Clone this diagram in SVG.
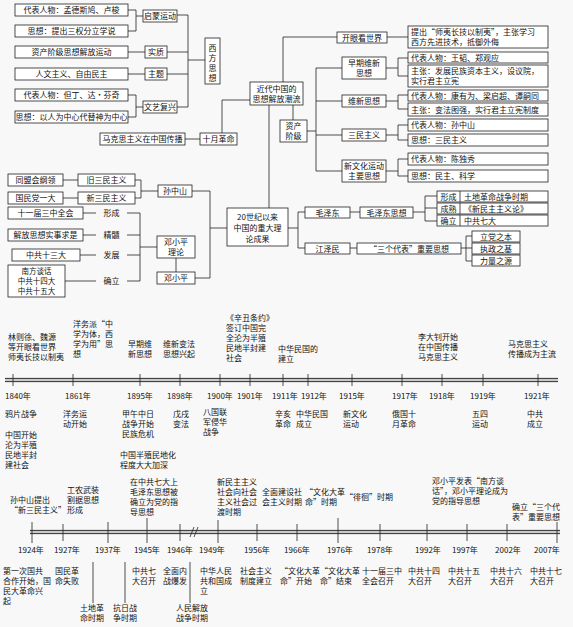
<svg xmlns="http://www.w3.org/2000/svg" width="573" height="627" viewBox="0 0 573 627">
<style>
.b{fill:#fff;stroke:#222;stroke-width:0.8}
.t{font-family:"Noto Sans CJK SC","Noto Sans",sans-serif;font-size:8px;fill:#111}
.s{font-size:7.5px}
.c{text-anchor:middle}
.l{stroke:#222;stroke-width:0.8;fill:none}
.band{stroke:#c8c8c8;stroke-width:5}
</style>
<rect width="573" height="627" fill="#f8f8f8"/>
<g id="connectors" class="l">
<path d="M128 10H136M128 31H136M136 10V31M136 16H143"/>
<path d="M128 52H145M128 74H145"/>
<path d="M128 95H136M128 117H136M136 95V117M136 107H143"/>
<path d="M177 15H188M167 52H188M167 74H188M177 107H188M188 15V107M188 60H205"/>
<path d="M283 82V37H337"/>
<path d="M250 100H222V133M185 139H200"/>
<path d="M293 105V120M307 131H316M316 68V171M316 68H342M316 101H342M316 135H342M316 171H342"/>
<path d="M387 37H408"/>
<path d="M386 68H398M398 58V76M398 58H408M398 76H408"/>
<path d="M386 101H398M398 95V109M398 95H408M398 109H408"/>
<path d="M386 135H398M398 125V140M398 125H408M398 140H408"/>
<path d="M386 171H398M398 159V176M398 159H408M398 176H408"/>
<path d="M269 105V208"/>
<path d="M288 228H298M298 212V248M298 212H305M350 212H360M413 212H425M425 196V221M425 196H437M425 208H437M425 221H437"/>
<path d="M298 248H305M350 248H357M461 248H466M466 236V261M466 236H472M466 248H472M466 261H472"/>
<path d="M227 228H210M210 191V278M210 191H192M210 278H195"/>
<path d="M63 180H78M63 198H78M135 180H141M135 198H141M141 180V198M141 191H158"/>
<path d="M83 213H96M83 235H96M80 255H96M65 281H96M127 213H140M127 235H140M127 255H140M127 281H140M140 213V281M140 247H157M176 258V272"/>
</g>
<g id="west-rows">
<rect class="b" x="15" y="4" width="113" height="12"/><text class="t c" x="71.5" y="13">代表人物：孟德斯鸠、卢梭</text>
<rect class="b" x="15" y="25" width="113" height="12"/><text class="t c" x="71.5" y="34">思想：提出三权分立学说</text>
<rect class="b" x="15" y="46" width="113" height="12"/><text class="t c" x="71.5" y="55">资产阶级思想解放运动</text>
<rect class="b" x="15" y="68" width="113" height="12"/><text class="t c" x="71.5" y="77">人文主义、自由民主</text>
<rect class="b" x="15" y="89" width="113" height="12"/><text class="t c" x="71.5" y="98">代表人物：但丁、达·芬奇</text>
<rect class="b" x="15" y="111" width="113" height="12"/><text class="t c" x="71.5" y="120">思想：以人为中心代替神为中心</text>
</g>
<g id="west-labels">
<rect class="b" x="143" y="10" width="34" height="12"/><text class="t c" x="160" y="19">启蒙运动</text>
<rect class="b" x="145" y="46" width="22" height="12"/><text class="t c" x="156" y="55">实质</text>
<rect class="b" x="145" y="68" width="22" height="12"/><text class="t c" x="156" y="77">主题</text>
<rect class="b" x="143" y="101" width="34" height="12"/><text class="t c" x="160" y="110">文艺复兴</text>
</g>
<g id="west">
<rect class="b" x="205" y="38" width="15" height="46"/>
<text class="t c" x="212.5" y="51">西</text><text class="t c" x="212.5" y="61">方</text><text class="t c" x="212.5" y="71">思</text><text class="t c" x="212.5" y="81">想</text>
</g>
<g id="center">
<rect class="b" x="250" y="82" width="53" height="23"/>
<text class="t c" x="276.5" y="92">近代中国的</text><text class="t c" x="276.5" y="102">思想解放潮流</text>
</g>
<g id="marx">
<rect class="b" x="100" y="133" width="85" height="12"/><text class="t c" x="142.5" y="142">马克思主义在中国传播</text>
<rect class="b" x="200" y="133" width="37" height="12"/><text class="t c" x="218.5" y="142">十月革命</text>
</g>
<g id="bourgeois">
<rect class="b" x="280" y="120" width="27" height="22"/>
<text class="t c" x="293.5" y="129">资产</text><text class="t c" x="293.5" y="139">阶级</text>
</g>
<g id="branches">
<rect class="b" x="337" y="32" width="50" height="11"/><text class="t c" x="362" y="40.5">开眼看世界</text>
<rect class="b" x="342" y="57" width="44" height="22"/><text class="t c" x="364" y="66">早期维新</text><text class="t c" x="364" y="76">思想</text>
<rect class="b" x="342" y="95" width="44" height="12"/><text class="t c" x="364" y="104">维新思想</text>
<rect class="b" x="342" y="129" width="44" height="12"/><text class="t c" x="364" y="138">三民主义</text>
<rect class="b" x="342" y="160" width="44" height="22"/><text class="t c" x="364" y="169">新文化运动</text><text class="t c" x="364" y="179">主要思想</text>
</g>
<g id="details">
<rect class="b" x="408" y="26" width="140" height="22"/>
<text class="t" x="411" y="35">提出“师夷长技以制夷”，主张学习</text><text class="t" x="411" y="45">西方先进技术，抵御外侮</text>
<rect class="b" x="408" y="52" width="140" height="11"/><text class="t" x="411" y="60.5">代表人物：王韬、郑观应</text>
<rect class="b" x="408" y="65" width="140" height="22"/>
<text class="t" x="411" y="74">主张：发展民族资本主义，设议院，</text><text class="t" x="411" y="84">实行君主立宪</text>
<rect class="b" x="408" y="90" width="140" height="11"/><text class="t" x="411" y="98.5">代表人物：康有为、梁启超、谭嗣同</text>
<rect class="b" x="408" y="103" width="140" height="13"/><text class="t" x="411" y="112.5">主张：变法图强，实行君主立宪制度</text>
<rect class="b" x="408" y="119" width="140" height="12"/><text class="t" x="411" y="128">代表人物：孙中山</text>
<rect class="b" x="408" y="134" width="140" height="12"/><text class="t" x="411" y="143">思想：三民主义</text>
<rect class="b" x="408" y="153" width="140" height="12"/><text class="t" x="411" y="162">代表人物：陈独秀</text>
<rect class="b" x="408" y="170" width="140" height="12"/><text class="t" x="411" y="179">思想：民主、科学</text>
</g>
<g id="theory">
<rect class="b" x="227" y="208" width="61" height="38"/>
<text class="t c" x="257.5" y="220">20世纪以来</text><text class="t c" x="257.5" y="231">中国的重大理</text><text class="t c" x="257.5" y="242">论成果</text>
</g>
<g id="mao">
<rect class="b" x="305" y="207" width="45" height="11"/><text class="t c" x="327.5" y="215.5">毛泽东</text>
<rect class="b" x="360" y="207" width="53" height="11"/><text class="t c" x="386.5" y="215.5">毛泽东思想</text>
<rect class="b" x="437" y="191" width="111" height="11"/><line class="l" x1="460" y1="191" x2="460" y2="202"/><text class="t c" x="448.5" y="199.5">形成</text><text class="t" x="464" y="199.5">土地革命战争时期</text>
<rect class="b" x="437" y="203" width="111" height="11"/><line class="l" x1="460" y1="203" x2="460" y2="214"/><text class="t c" x="448.5" y="211.5">成熟</text><text class="t" x="464" y="211.5">《新民主主义论》</text>
<rect class="b" x="437" y="215" width="111" height="11"/><line class="l" x1="460" y1="215" x2="460" y2="226"/><text class="t c" x="448.5" y="223.5">确立</text><text class="t" x="464" y="223.5">中共七大</text>
</g>
<g id="jiang">
<rect class="b" x="305" y="243" width="45" height="11"/><text class="t c" x="327.5" y="251.5">江泽民</text>
<rect class="b" x="357" y="243" width="104" height="11"/><text class="t c" x="409" y="251.5">“三个代表”重要思想</text>
<rect class="b" x="472" y="231" width="48" height="11"/><text class="t c" x="496" y="239.5">立党之本</text>
<rect class="b" x="472" y="243" width="48" height="11"/><text class="t c" x="496" y="251.5">执政之基</text>
<rect class="b" x="472" y="255" width="48" height="11"/><text class="t c" x="496" y="263.5">力量之源</text>
</g>
<g id="sun">
<rect class="b" x="8" y="174" width="55" height="12"/><text class="t c" x="35.5" y="183">同盟会纲领</text>
<rect class="b" x="78" y="174" width="57" height="12"/><text class="t c" x="106.5" y="183">旧三民主义</text>
<rect class="b" x="8" y="192" width="55" height="12"/><text class="t c" x="35.5" y="201">国民党一大</text>
<rect class="b" x="78" y="192" width="57" height="12"/><text class="t c" x="106.5" y="201">新三民主义</text>
<rect class="b" x="158" y="185" width="34" height="12"/><text class="t c" x="175" y="194">孙中山</text>
</g>
<g id="deng">
<rect class="b" x="8" y="207" width="75" height="12"/><text class="t c" x="45.5" y="216">十一届三中全会</text>
<rect class="b" x="8" y="229" width="75" height="12"/><text class="t c" x="45.5" y="238">解放思想实事求是</text>
<rect class="b" x="12" y="249" width="68" height="12"/><text class="t c" x="46" y="258">中共十三大</text>
<rect class="b" x="8" y="265" width="57" height="32"/><text class="t s c" x="36.5" y="274">南方谈话</text><text class="t s c" x="36.5" y="284">中共十四大</text><text class="t s c" x="36.5" y="294">中共十五大</text>
<text class="t c" x="111.5" y="216">形成</text>
<text class="t c" x="111.5" y="238">精髓</text>
<text class="t c" x="111.5" y="258">发展</text>
<text class="t c" x="111.5" y="284">确立</text>
<rect class="b" x="157" y="236" width="38" height="22"/><text class="t c" x="176" y="245">邓小平</text><text class="t c" x="176" y="255">理论</text>
<rect class="b" x="157" y="272" width="38" height="12"/><text class="t c" x="176" y="281">邓小平</text>
</g>
<g id="timeline1">
<line class="band" x1="5" y1="380" x2="558" y2="380"/>
<line class="l" x1="5" y1="378.5" x2="558" y2="378.5"/><line class="l" x1="5" y1="381.5" x2="558" y2="381.5"/>
<path class="l" d="M13 374V386M73 374V386M140 374V386M180 374V386M220 374V386M250 374V386M283 374V386M308 374V386M352 374V386M402 374V386M442 374V386M483 374V386M538 374V386"/>
<g class="t c">
<text x="18" y="399">1840年</text><text x="78" y="399">1861年</text><text x="140" y="399">1895年</text><text x="180" y="399">1898年</text><text x="220" y="399">1900年</text><text x="250" y="399">1901年</text><text x="285" y="399">1911年</text><text x="314" y="399">1912年</text><text x="352" y="399">1915年</text><text x="405" y="399">1917年</text><text x="442" y="399">1918年</text><text x="483" y="399">1919年</text><text x="537" y="399">1921年</text>
</g>
<g class="t">
<text x="8" y="340">林则徐、魏源</text><text x="8" y="350">等开眼看世界</text><text x="8" y="360">师夷长技以制夷</text>
<text x="73" y="327">洋务派“中</text><text x="73" y="337">学为体，西</text><text x="73" y="347">学为用”思</text><text x="73" y="357">想</text>
<text x="128" y="347">早期维</text><text x="128" y="357">新思想</text>
<text x="163" y="347">维新变法</text><text x="163" y="357">思想兴起</text>
<text x="226" y="321">《辛丑条约》</text><text x="226" y="331">签订中国完</text><text x="226" y="341">全沦为半殖</text><text x="226" y="351">民地半封建</text><text x="226" y="361">社会</text>
<text x="278" y="352">中华民国的</text><text x="278" y="362">建立</text>
<text x="418" y="340">李大钊开始</text><text x="418" y="350">在中国传播</text><text x="418" y="360">马克思主义</text>
<text x="508" y="347">马克思主义</text><text x="508" y="357">传播成为主流</text>
<text x="5" y="417">鸦片战争</text>
<text x="5" y="438">中国开始</text><text x="5" y="448">沦为半殖</text><text x="5" y="458">民地半封</text><text x="5" y="468">建社会</text>
<text x="63" y="417">洋务运</text><text x="63" y="427">动开始</text>
<text x="122" y="417">甲午中日</text><text x="122" y="427">战争开始</text><text x="122" y="437">民族危机</text>
<text x="120" y="458">中国半殖民地化</text><text x="120" y="468">程度大大加深</text>
<text x="173" y="417">戊戌</text><text x="173" y="427">变法</text>
<text x="203" y="415">八国联</text><text x="203" y="425">军侵华</text><text x="203" y="435">战争</text>
<text x="275" y="417">辛亥</text><text x="275" y="427">革命</text>
<text x="296" y="417">中华民国</text><text x="296" y="427">成立</text>
<text x="343" y="417">新文化</text><text x="343" y="427">运动</text>
<text x="392" y="417">俄国十</text><text x="392" y="427">月革命</text>
<text x="472" y="417">五四</text><text x="472" y="427">运动</text>
<text x="527" y="417">中共</text><text x="527" y="427">成立</text>
</g>
</g>
<g id="timeline2">
<line class="band" x1="30" y1="532" x2="560" y2="532"/>
<line class="l" x1="30" y1="530.5" x2="560" y2="530.5"/><line class="l" x1="30" y1="533.5" x2="560" y2="533.5"/>
<path class="l" d="M190 537L194 527M194 537L198 527"/>
<path class="l" d="M32 522V543M63 524V541M108 522V543M147 518V543M180 524V541M218 520V543M257 524V541M297 524V541M338 518V543M380 524V541M427 524V541M467 524V541M507 524V541M557 522V543"/>
<path class="l" d="M93 562V603M125 562V603M190 562V603"/>
<g class="t c">
<text x="31" y="553">1924年</text><text x="67" y="553">1927年</text><text x="108" y="553">1937年</text><text x="147" y="553">1945年</text><text x="180" y="553">1946年</text><text x="212" y="553">1949年</text><text x="257" y="553">1956年</text><text x="297" y="553">1966年</text><text x="340" y="553">1976年</text><text x="380" y="553">1978年</text><text x="428" y="553">1992年</text><text x="465" y="553">1997年</text><text x="508" y="553">2002年</text><text x="547" y="553">2007年</text>
</g>
<g class="t">
<text x="10" y="503">孙中山提出</text><text x="10" y="513">“新三民主义”</text>
<text x="67" y="493">工农武装</text><text x="67" y="503">割据思想</text><text x="67" y="513">形成</text>
<text x="130" y="485">在中共七大上</text><text x="130" y="495">毛泽东思想被</text><text x="130" y="505">确立为党的指</text><text x="130" y="515">导思想</text>
<text x="217" y="485">新民主主义</text><text x="217" y="495">社会向社会</text><text x="217" y="505">主义社会过</text><text x="217" y="515">渡时期</text>
<text x="262" y="495">全面建设社</text><text x="262" y="505">会主义时期</text>
<text x="305" y="495">“文化大革</text><text x="305" y="505">命”时期</text>
<text x="345" y="500">“徘徊”时期</text>
<text x="432" y="484">邓小平发表“南方谈</text><text x="432" y="494">话”，邓小平理论成为</text><text x="432" y="504">党的指导思想</text>
<text x="512" y="510">确立“三个代</text><text x="512" y="520">表”重要思想</text>
<text x="3" y="574">第一次国共</text><text x="3" y="584">合作开始，国</text><text x="3" y="594">民大革命兴</text><text x="3" y="604">起</text>
<text x="55" y="574">国民革</text><text x="55" y="584">命失败</text>
<text x="80" y="611">土地革</text><text x="80" y="621">命时期</text>
<text x="113" y="611">抗日战</text><text x="113" y="621">争时期</text>
<text x="132" y="574">中共七</text><text x="132" y="584">大召开</text>
<text x="163" y="574">全面内</text><text x="163" y="584">战爆发</text>
<text x="176" y="611">人民解放</text><text x="176" y="621">战争时期</text>
<text x="200" y="574">中华人民</text><text x="200" y="584">共和国成</text><text x="200" y="594">立</text>
<text x="240" y="574">社会主义</text><text x="240" y="584">制度建立</text>
<text x="280" y="574">“文化大革</text><text x="280" y="584">命”开始</text>
<text x="320" y="574">“文化大革</text><text x="320" y="584">命”结束</text>
<text x="362" y="574">十一届三中</text><text x="362" y="584">全会召开</text>
<text x="408" y="574">中共十四</text><text x="408" y="584">大召开</text>
<text x="448" y="574">中共十五</text><text x="448" y="584">大召开</text>
<text x="490" y="574">中共十六</text><text x="490" y="584">大召开</text>
<text x="530" y="574">中共十七</text><text x="530" y="584">大召开</text>
</g>
</g>
</svg>
